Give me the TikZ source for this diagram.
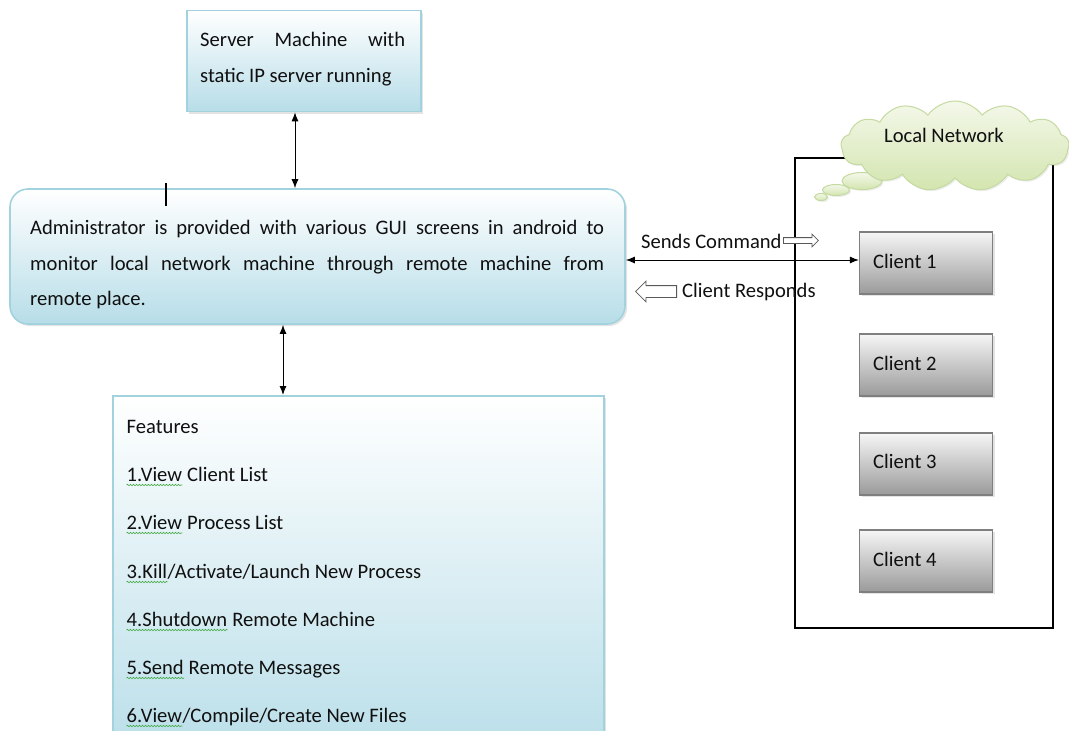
\documentclass[tikz,border=0pt]{standalone}
\usepackage{fontspec}
\setmainfont{Carlito}
\usetikzlibrary{arrows.meta,shapes.symbols,shapes.geometric,shapes.arrows,shadows,decorations.pathmorphing}

\definecolor{boxblue}{HTML}{B7DDE8}
\definecolor{edgeblue}{HTML}{A3D2DF}
\definecolor{cloudtop}{HTML}{F4F8EA}
\definecolor{cloudbot}{HTML}{D3E5AF}
\definecolor{cloudedge}{HTML}{C4DAA0}
\definecolor{greytop}{HTML}{F6F6F6}
\definecolor{greybot}{HTML}{9A9A9A}
\definecolor{greyedge}{HTML}{7F7F7F}
\definecolor{ink}{HTML}{101010}
\definecolor{squig}{HTML}{3EA83E}

\tikzset{
  txt/.style={inner sep=0pt, anchor=base west, font=\fontsize{20.6}{24}\selectfont, text=ink},
  softshadow/.style={drop shadow={opacity=0.22, shadow xshift=2pt, shadow yshift=-2pt}},
  bluebox/.style={rectangle, draw=edgeblue, line width=1.6pt, top color=white,
    bottom color=boxblue, softshadow},
  clientbox/.style={rectangle, draw=greyedge, line width=1.2pt, top color=greytop,
    bottom color=greybot, minimum width=133pt, minimum height=62pt, softshadow},
  puff/.style={top color=cloudtop, bottom color=cloudbot, draw=cloudedge, line width=1pt,
    drop shadow={opacity=0.15, shadow xshift=1.5pt, shadow yshift=-1.5pt}},
  link/.style={draw=black, line width=1pt,
    {Latex[length=9pt,width=7pt]}-{Latex[length=9pt,width=7pt]}},
  hollow/.style={single arrow, draw=black!65, line width=0.8pt, fill=white, inner xsep=0pt},
  wavy/.style={draw=squig, line width=0.6pt, decorate,
    decoration={snake, amplitude=0.7pt, segment length=3pt}},
}

\begin{document}
\begin{tikzpicture}[x=1pt,y=-1pt]
\useasboundingbox (0,0) rectangle (1069,731);

% --- server machine -------------------------------------------------------
\node[bluebox, minimum width=234pt, minimum height=101pt] (server) at (304,61) {};
\node[txt] (srv1) at (200,46) {\makebox[205pt][s]{Server Machine with}};
\node[txt] (srv2) at (200,82) {static IP server running};

% --- administrator --------------------------------------------------------
\node[bluebox, rounded corners=18pt, minimum width=615pt, minimum height=135pt]
  (admin) at (317.5,256.5) {};
\node[txt] (adm1) at (30,234)
  {\makebox[574pt][s]{Administrator is provided with various GUI screens in android to}};
\node[txt] (adm2) at (30,270)
  {\makebox[574pt][s]{monitor local network machine through remote machine from}};
\node[txt] (adm3) at (30,305) {remote place.};
\draw[line width=2pt, black] (166,183) -- (166,206);

% --- features list --------------------------------------------------------
\node[bluebox, line width=2pt, minimum width=491pt, minimum height=370pt]
  (features) at (358.5,581) {};
\node[txt] (ftitle) at (126.5,433) {Features};
\node[txt] (f1a) at (126.5,481) {1.View};
\node[txt] (f1b) at ([xshift=4.6pt]f1a.base east) {Client List};
\node[txt] (f2a) at (126.5,529) {2.View};
\node[txt] (f2b) at ([xshift=4.6pt]f2a.base east) {Process List};
\node[txt] (f3a) at (126.5,578) {3.Kill};
\node[txt] (f3b) at (f3a.base east) {/Activate/Launch New Process};
\node[txt] (f4a) at (126.5,626) {4.Shutdown};
\node[txt] (f4b) at ([xshift=4.6pt]f4a.base east) {Remote Machine};
\node[txt] (f5a) at (126.5,674) {5.Send};
\node[txt] (f5b) at ([xshift=4.6pt]f5a.base east) {Remote Messages};
\node[txt] (f6a) at (126.5,722) {6.View};
\node[txt] (f6b) at (f6a.base east) {/Compile/Create New Files};
\foreach \w in {f1a,f2a,f3a,f4a,f5a,f6a}
  \draw[wavy] ([yshift=-4pt]\w.base west) -- ([yshift=-4pt]\w.base east);

% --- local network ----------------------------------------------------------
\node[draw=black, line width=1.2pt, minimum width=258pt, minimum height=470pt]
  (lan) at (924,393) {};
\node[puff, ellipse, minimum width=13pt, minimum height=7pt, inner sep=0pt] (b3) at (821,197) {};
\node[puff, ellipse, minimum width=27pt, minimum height=11pt, inner sep=0pt] (b2) at (836,190) {};
\node[puff, ellipse, minimum width=40pt, minimum height=17pt, inner sep=0pt] (b1) at (862,181) {};
\node[puff, cloud, cloud puffs=13, cloud puff arc=110, cloud ignores aspect,
  minimum width=228pt, minimum height=90pt, inner sep=0pt] (cloud) at (955,146) {};
\node[txt] (lantitle) at (884,142) {Local Network};

\node[clientbox] (c1) at (926,263) {};
\node[clientbox] (c2) at (926,365) {};
\node[clientbox] (c3) at (926,464) {};
\node[clientbox] (c4) at (926,561) {};
\node[txt] (c1t) at (873,268) {Client 1};
\node[txt] (c2t) at (873,370) {Client 2};
\node[txt] (c3t) at (873,468.5) {Client 3};
\node[txt] (c4t) at (873,566) {Client 4};

% --- connectors -------------------------------------------------------------
\coordinate (upx) at (295,0);
\coordinate (downx) at (283,0);
\coordinate (cmdy) at (0,260);
\draw[link] (server.south -| upx) -- (admin.north -| upx);
\draw[link] (admin.south -| downx) -- (features.north -| downx);
\draw[link] (admin.east |- cmdy) -- (c1.west |- cmdy);

\node[txt] (sends) at (641,248) {Sends Command};
\node[hollow, minimum height=35pt, inner ysep=2.5pt, single arrow head extend=3.5pt,
  anchor=tail] (sendarrow) at (783,240.5) {};
\node[hollow, minimum height=41pt, inner ysep=5.5pt, single arrow head extend=4.5pt,
  shape border rotate=180, anchor=tail] (resparrow) at (677,291.5) {};
\node[txt] (responds) at (682,297) {Client Responds};

\end{tikzpicture}
\end{document}
